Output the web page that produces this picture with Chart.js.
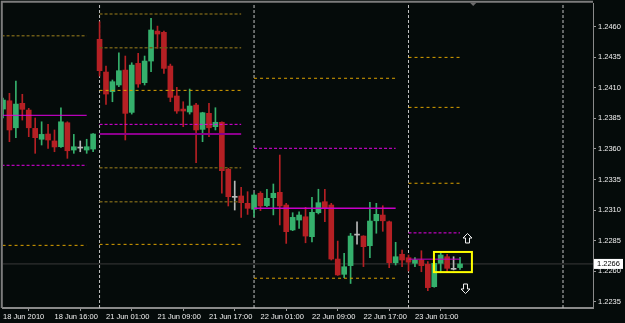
<!DOCTYPE html>
<html>
<head>
<meta charset="utf-8">
<script src="https://cdn.jsdelivr.net/npm/chart.js@4/dist/chart.umd.min.js"></script>
<style>
  html, body { margin: 0; padding: 0; background: #050b0a; }
  canvas { display: block; }
</style>
</head>
<body>
<canvas id="chart" width="625" height="323"></canvas>
<script>
// hourly EURUSD bars, 18 Jun 2010 08:00 .. 23 Jun 2010 08:00 (index 0..71)
const opens = [
  1.23926, 1.23994, 1.23773, 1.23973, 1.23918, 1.23768, 1.23679, 1.23722, 1.23665, 1.23618,
  1.23814, 1.23591, 1.23607, 1.23591, 1.23599, 1.24497, 1.24229, 1.24068, 1.24123, 1.24245,
  1.23899, 1.24300, 1.24142, 1.24319, 1.24564, 1.24554, 1.24278, 1.24033, 1.23926, 1.23902,
  1.23959, 1.23760, 1.23891, 1.23782, 1.23818, 1.23433, 1.23204, 1.23215, 1.23155, 1.23106,
  1.23237, 1.23136, 1.23201, 1.23245, 1.23141, 1.22937, 1.23018, 1.23045, 1.22882, 1.23078,
  1.23168, 1.23141, 1.22699, 1.22574, 1.22645, 1.22895, 1.22887, 1.22808, 1.23012, 1.23059,
  1.23004, 1.22669, 1.22738, 1.22710, 1.22664, 1.22691, 1.22656, 1.22473, 1.22664, 1.22718,
  1.22615, 1.22629
];
const highs = [
  1.24016, 1.24055, 1.24155, 1.24047, 1.23932, 1.23853, 1.23822, 1.23801, 1.23755, 1.23937,
  1.23822, 1.23719, 1.23665, 1.23679, 1.23725, 1.24641, 1.24278, 1.24164, 1.24387, 1.24360,
  1.24305, 1.24382, 1.24360, 1.24668, 1.24605, 1.24564, 1.24294, 1.24104, 1.23986, 1.24090,
  1.23973, 1.23900, 1.23973, 1.23937, 1.23822, 1.23442, 1.23337, 1.23286, 1.23250, 1.23237,
  1.23250, 1.23270, 1.23313, 1.23550, 1.23155, 1.23078, 1.23086, 1.23122, 1.23204, 1.23270,
  1.23270, 1.23155, 1.22846, 1.22745, 1.22909, 1.23004, 1.22890, 1.23163, 1.23155, 1.23135,
  1.23010, 1.22836, 1.22773, 1.22732, 1.22710, 1.22767, 1.22678, 1.22668, 1.22751, 1.22738,
  1.22718, 1.22713
];
const lows = [
  1.23853, 1.23659, 1.23692, 1.23836, 1.23700, 1.23564, 1.23632, 1.23605, 1.23577, 1.23612,
  1.23523, 1.23564, 1.23577, 1.23564, 1.23577, 1.24196, 1.23965, 1.23986, 1.24109, 1.23673,
  1.23885, 1.24104, 1.24123, 1.24232, 1.24423, 1.24218, 1.23986, 1.23891, 1.23782, 1.23885,
  1.23487, 1.23659, 1.23700, 1.23755, 1.23237, 1.23133, 1.23100, 1.23040, 1.23064, 1.23046,
  1.23095, 1.23127, 1.23060, 1.22978, 1.22827, 1.22931, 1.22950, 1.22832, 1.22840, 1.23068,
  1.23005, 1.22691, 1.22565, 1.22547, 1.22499, 1.22820, 1.22637, 1.22710, 1.22910, 1.22926,
  1.22628, 1.22650, 1.22637, 1.22601, 1.22637, 1.22595, 1.22440, 1.22468, 1.22587, 1.22595,
  1.22610, 1.22615
];
const closes = [
  1.24000, 1.23755, 1.23967, 1.23924, 1.23773, 1.23692, 1.23719, 1.23673, 1.23616, 1.23822,
  1.23585, 1.23618, 1.23607, 1.23618, 1.23722, 1.24240, 1.24049, 1.24150, 1.24240, 1.23891,
  1.24286, 1.24131, 1.24319, 1.24573, 1.24540, 1.24259, 1.24022, 1.23910, 1.23910, 1.23951,
  1.23755, 1.23896, 1.23773, 1.23818, 1.23422, 1.23209, 1.23204, 1.23160, 1.23114, 1.23223,
  1.23133, 1.23196, 1.23237, 1.23133, 1.22923, 1.23040, 1.23059, 1.22887, 1.23081, 1.23160,
  1.23114, 1.22699, 1.22569, 1.22636, 1.22887, 1.22895, 1.22800, 1.23010, 1.23065, 1.23012,
  1.22669, 1.22718, 1.22691, 1.22673, 1.22691, 1.22645, 1.22465, 1.22664, 1.22732, 1.22623,
  1.22615, 1.22659
];

// time axis
const tickIndex = [0, 8, 16, 24, 32, 40, 48, 56, 64];
const tickLabels = ['18 Jun 2010', '18 Jun 16:00', '21 Jun 01:00', '21 Jun 09:00', '21 Jun 17:00',
  '22 Jun 01:00', '22 Jun 09:00', '22 Jun 17:00', '23 Jun 01:00'];
const daySeparators = [15, 39, 63, 87];

// price axis
const priceTicks = [1.2235, 1.2260, 1.2285, 1.2310, 1.2335, 1.2360, 1.2385, 1.2410, 1.2435, 1.2460];
const priceMin = 1.222984;
const priceMax = 1.247939;
const bid = 1.22659;

// daily pivot levels, one entry per day
const levelSpans = [[-1, 13], [15, 37], [39, 61], [63, 71]];
const dimLevels = [[1.24526], [1.24703, 1.24428, 1.23446, 1.23168], [], []];
const orangeLevels = [[1.22811], [1.24079, 1.22819], [1.24178, 1.22542], [1.24349, 1.23940, 1.23319]];
const pinkDashLevels = [[1.23466], [1.23801], [1.23605], [1.22913]];
const pinkLineLevels = [[1.23875], [1.23722], [1.23114], [1.22698]];

// objects on the chart: [fromIndex, toIndex, topPrice, bottomPrice] and [index, price]
const markerBox = [66.95, 72.85, 1.22757, 1.22592];
const arrowUp = [72.1, 1.22875];
const arrowDown = [71.8, 1.22462];

const GREEN = '#35b06c';
const RED = '#b52024';
const GRAY = '#b8b8b8';
const candleColor = closes.map((c, i) => c > opens[i] ? GREEN : (c < opens[i] ? RED : GRAY));

const datasets = [];

datasets.push({
  type: 'bar', order: 2, grouped: false, barThickness: 1,
  data: lows.map((l, i) => ({ x: i, y: [l, highs[i]] })),
  backgroundColor: candleColor
});
datasets.push({
  type: 'bar', order: 1, grouped: false, barThickness: 5, minBarLength: 1,
  data: opens.map((o, i) => ({ x: i, y: [o, closes[i]] })),
  backgroundColor: candleColor
});

function addLevel(price, span, color, width, dash) {
  datasets.push({
    type: 'line', order: 0, data: [{ x: span[0], y: price }, { x: span[1], y: price }],
    borderColor: color, borderWidth: width, borderDash: dash, pointRadius: 0
  });
}
const pinkLineColors = ['#e400e4', '#8c008c', '#c800c8', '#c400c4'];
const pinkLineWidths = [1, 2, 1.5, 1];
levelSpans.forEach((span, d) => {
  dimLevels[d].forEach(p => addLevel(p, span, '#6c5a16', 1.5, [3, 2]));
  orangeLevels[d].forEach(p => addLevel(p, span, '#dca200', 1, [3, 3]));
  pinkDashLevels[d].forEach(p => addLevel(p, span, '#e600e6', 1, [3, 2]));
  pinkLineLevels[d].forEach(p => addLevel(p, span, pinkLineColors[d], pinkLineWidths[d], []));
});

daySeparators.forEach(s => {
  datasets.push({
    type: 'line', order: 3, data: [{ x: s, y: priceMin }, { x: s, y: priceMax }],
    borderColor: '#c4c4c4', borderWidth: 1, borderDash: [3, 2], pointRadius: 0
  });
});

datasets.push({
  type: 'line', order: 4, data: [{ x: -1, y: bid }, { x: 95, y: bid }],
  borderColor: '#3a3a3a', borderWidth: 1, pointRadius: 0
});

const FONT = { family: 'Liberation Sans', size: 7.5 };

const background = {
  id: 'background',
  beforeDraw: (chart) => {
    const { ctx } = chart;
    ctx.save();
    ctx.fillStyle = '#050b0a';
    ctx.fillRect(0, 0, chart.width, chart.height);
    ctx.restore();
  }
};

const objects = {
  id: 'objects',
  afterDatasetsDraw: (chart) => {
    const { ctx, chartArea } = chart;
    const xs = chart.scales.x, ys = chart.scales.y;
    ctx.save();
    // frame
    ctx.strokeStyle = '#7c7c7c';
    ctx.lineWidth = 2;
    ctx.beginPath();
    ctx.moveTo(1.8, chartArea.bottom);
    ctx.lineTo(1.8, 1.8);
    ctx.lineTo(chartArea.right, 1.8);
    ctx.stroke();
    // chart shift marker
    const sx = xs.getPixelForValue(73.05);
    ctx.fillStyle = '#6a6a6a';
    ctx.beginPath();
    ctx.moveTo(sx - 3.5, 2.5);
    ctx.lineTo(sx + 3.5, 2.5);
    ctx.lineTo(sx, 6);
    ctx.closePath();
    ctx.fill();
    // yellow rectangle
    const x1 = xs.getPixelForValue(markerBox[0]), x2 = xs.getPixelForValue(markerBox[1]);
    const y1 = ys.getPixelForValue(markerBox[2]), y2 = ys.getPixelForValue(markerBox[3]);
    ctx.strokeStyle = '#ffff00';
    ctx.lineWidth = 2;
    ctx.strokeRect(x1, y1, x2 - x1, y2 - y1);
    // arrows
    const drawArrow = (pos, up) => {
      const cx = Math.round(xs.getPixelForValue(pos[0])) + 0.5;
      const cy = Math.round(ys.getPixelForValue(pos[1])) + 0.5;
      const s = up ? 1 : -1;
      ctx.beginPath();
      ctx.moveTo(cx, cy - 5 * s);
      ctx.lineTo(cx + 4.5, cy - 0.5 * s);
      ctx.lineTo(cx + 2, cy - 0.5 * s);
      ctx.lineTo(cx + 2, cy + 4.5 * s);
      ctx.lineTo(cx - 2, cy + 4.5 * s);
      ctx.lineTo(cx - 2, cy - 0.5 * s);
      ctx.lineTo(cx - 4.5, cy - 0.5 * s);
      ctx.closePath();
      ctx.fillStyle = '#050b0a';
      ctx.fill();
      ctx.strokeStyle = '#f0f0f0';
      ctx.lineWidth = 1;
      ctx.stroke();
    };
    drawArrow(arrowUp, true);
    drawArrow(arrowDown, false);
    ctx.restore();
  },
  afterDraw: (chart) => {
    const { ctx, chartArea } = chart;
    const y = chart.scales.y.getPixelForValue(bid);
    ctx.save();
    ctx.fillStyle = '#ffffff';
    ctx.strokeStyle = '#9a9a9a';
    ctx.lineWidth = 1;
    ctx.fillRect(chartArea.right + 1, y - 5, 29, 10);
    ctx.fillStyle = '#000000';
    ctx.font = FONT.size + 'px ' + FONT.family;
    ctx.textBaseline = 'middle';
    ctx.fillText(bid.toFixed(4), chartArea.right + 4, y + 0.5);
    ctx.restore();
  }
};

new Chart(document.getElementById('chart'), {
  type: 'bar',
  data: { datasets: datasets },
  options: {
    responsive: false,
    animation: false,
    devicePixelRatio: 1,
    layout: { padding: { left: 3, top: 3, right: 0, bottom: 0 } },
    plugins: { legend: { display: false }, tooltip: { enabled: false } },
    scales: {
      x: {
        type: 'linear', min: 0, max: 91.66, offset: false,
        afterBuildTicks: (s) => { s.ticks = tickIndex.map(v => ({ value: v })); },
        afterFit: (s) => { s.height = 15; s.paddingLeft = 0; s.paddingRight = 0; },
        grid: { drawOnChartArea: false, tickLength: 3, tickColor: '#9a9a9a' },
        border: { color: '#8a8a8a', width: 2 },
        ticks: {
          align: 'start', color: '#f0f0f0', font: FONT, padding: 1,
          maxRotation: 0, autoSkip: false,
          callback: (v, i) => tickLabels[i]
        }
      },
      y: {
        position: 'right', min: priceMin, max: priceMax,
        afterBuildTicks: (s) => { s.ticks = priceTicks.map(v => ({ value: v })); },
        afterFit: (s) => { s.width = 32; s.paddingTop = 0; s.paddingBottom = 0; },
        grid: { drawOnChartArea: false, tickLength: 3, tickColor: '#9a9a9a' },
        border: { color: '#8a8a8a', width: 1 },
        ticks: {
          color: '#f0f0f0', font: FONT, padding: 2,
          callback: (v) => v.toFixed(4)
        }
      }
    }
  },
  plugins: [background, objects]
});
</script>
</body>
</html>
